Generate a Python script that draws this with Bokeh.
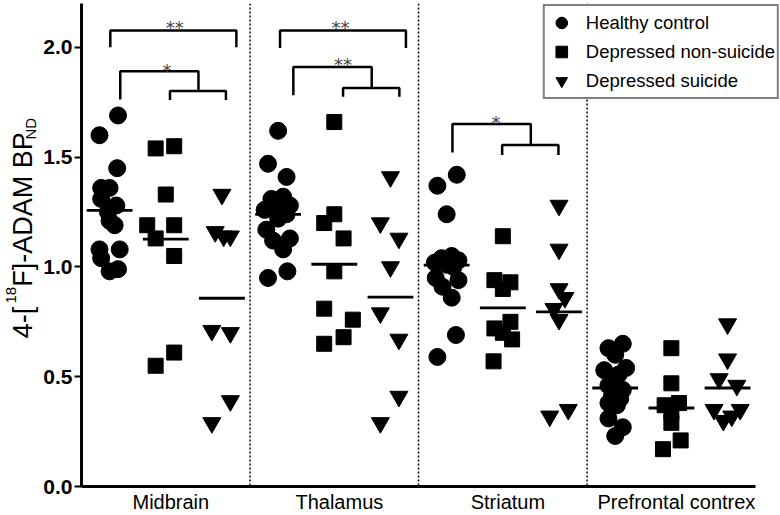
import math
import numpy as np
from bokeh.plotting import figure
from bokeh.layouts import row
from bokeh.models import Span, FixedTicker, NumeralTickFormatter
from bokeh.core.properties import value
from bokeh.embed import file_html
from bokeh.resources import INLINE

categories = ["Midbrain", "Thalamus", "Striatum", "Prefrontal contrex"]
group_names = ["Healthy control", "Depressed non-suicide", "Depressed suicide"]
y_ticks = [0.0, 0.5, 1.0, 1.5, 2.0]

# ---- Healthy control (circles) ----
hc_midbrain = [1.69, 1.60, 1.45, 1.36, 1.36, 1.31, 1.28, 1.25, 1.21, 1.19, 1.08, 1.08, 1.04, 0.98, 0.99]
hc_midbrain_dx = [0.05, -0.06, 0.045, -0.05, 0.0, -0.05, 0.04, -0.01, 0.0, 0.03, -0.06, 0.06, -0.05, 0.0, 0.05]
hc_thalamus = [1.62, 1.47, 1.41, 1.32, 1.31, 1.28, 1.27, 1.26, 1.24, 1.22, 1.17, 1.13, 1.12, 1.08, 0.98, 0.95]
hc_thalamus_dx = [0.0, -0.06, 0.05, 0.03, -0.04, 0.07, 0.0, -0.08, 0.05, 0.0, -0.07, 0.07, -0.03, 0.03, 0.055, -0.06]
hc_striatum = [1.42, 1.37, 1.24, 1.05, 1.04, 1.03, 1.02, 1.01, 1.00, 0.95, 0.94, 0.91, 0.86, 0.69, 0.59]
hc_striatum_dx = [0.06, -0.055, 0.0, 0.03, -0.03, 0.07, -0.07, 0.0, 0.04, -0.065, 0.07, -0.025, 0.03, 0.055, -0.055]
hc_prefrontal = [0.65, 0.63, 0.60, 0.53, 0.54, 0.51, 0.46, 0.44, 0.41, 0.40, 0.37, 0.38, 0.31, 0.27, 0.23]
hc_prefrontal_dx = [0.045, -0.04, 0.0, -0.065, 0.065, 0.02, -0.04, 0.045, -0.02, 0.03, 0.01, -0.04, -0.04, 0.045, 0.0]

# ---- Depressed non-suicide (squares) ----
dn_midbrain = [1.54, 1.55, 1.33, 1.19, 1.19, 1.13, 1.05, 0.61, 0.55]
dn_midbrain_dx = [-0.06, 0.05, 0.0, -0.11, 0.05, -0.06, 0.05, 0.05, -0.06]
dn_thalamus = [1.66, 1.24, 1.20, 1.13, 0.98, 0.81, 0.76, 0.68, 0.65]
dn_thalamus_dx = [0.0, 0.0, -0.06, 0.055, 0.0, -0.06, 0.11, 0.055, -0.06]
dn_striatum = [1.14, 0.94, 0.93, 0.90, 0.75, 0.72, 0.70, 0.67, 0.57]
dn_striatum_dx = [0.0, -0.05, 0.045, 0.0, 0.045, -0.05, 0.0, 0.055, -0.055]
dn_prefrontal = [0.63, 0.47, 0.38, 0.37, 0.34, 0.29, 0.21, 0.17]
dn_prefrontal_dx = [0.0, 0.0, 0.045, -0.04, 0.0, 0.0, 0.055, -0.05]

# ---- Depressed suicide (inverted triangles) ----
ds_midbrain = [1.33, 1.16, 1.14, 1.14, 0.71, 0.70, 0.39, 0.29]
ds_midbrain_dx = [0.0, -0.04, 0.01, 0.05, -0.06, 0.05, 0.05, -0.06]
ds_thalamus = [1.41, 1.20, 1.13, 1.00, 0.79, 0.67, 0.41, 0.29]
ds_thalamus_dx = [0.0, -0.06, 0.05, 0.0, -0.06, 0.05, 0.05, -0.06]
ds_striatum = [1.28, 1.08, 0.90, 0.86, 0.81, 0.76, 0.35, 0.32]
ds_striatum_dx = [0.0, 0.0, 0.0, 0.035, -0.03, 0.0, 0.055, -0.055]
ds_prefrontal = [0.74, 0.58, 0.49, 0.46, 0.35, 0.35, 0.32, 0.30]
ds_prefrontal_dx = [0.0, 0.0, -0.05, 0.055, -0.08, 0.075, 0.025, -0.025]

# significance brackets (x in category units, y in data units)
bracket_xs = [
    [0.171, 0.171, 0.919, 0.919],
    [0.230, 0.230, 0.694, 0.694],
    [0.525, 0.525, 0.857, 0.857],
    [1.178, 1.178, 1.925, 1.925],
    [1.257, 1.257, 1.722, 1.722],
    [1.552, 1.552, 1.886, 1.886],
    [2.201, 2.201, 2.666, 2.666],
    [2.496, 2.496, 2.830, 2.830],
]
bracket_ys = [
    [2.001, 2.077, 2.077, 2.001],
    [1.763, 1.891, 1.891, 1.802],
    [1.760, 1.802, 1.802, 1.760],
    [1.997, 2.077, 2.077, 1.997],
    [1.782, 1.911, 1.911, 1.815],
    [1.775, 1.815, 1.815, 1.775],
    [1.521, 1.651, 1.651, 1.556],
    [1.510, 1.556, 1.556, 1.510],
]
star_text = ["**", "*", "**", "**", "*"]
star_x = [0.553, 0.507, 1.537, 1.552, 2.460]
star_y = [2.092, 1.897, 2.092, 1.920, 1.656]

# y-axis title pieces (rotated), with font size, baseline x and start y in the title strip
title_pieces = ["4-[", "18", "F]-ADAM BP", "ND"]
title_sizes = [27, 15, 27, 15]
title_base_x = [35, 17, 35, 36.5]
title_start_y = [158, 195, 213, 370]

groups = [
    [(hc_midbrain, hc_midbrain_dx), (hc_thalamus, hc_thalamus_dx),
     (hc_striatum, hc_striatum_dx), (hc_prefrontal, hc_prefrontal_dx)],
    [(dn_midbrain, dn_midbrain_dx), (dn_thalamus, dn_thalamus_dx),
     (dn_striatum, dn_striatum_dx), (dn_prefrontal, dn_prefrontal_dx)],
    [(ds_midbrain, ds_midbrain_dx), (ds_thalamus, ds_thalamus_dx),
     (ds_striatum, ds_striatum_dx), (ds_prefrontal, ds_prefrontal_dx)],
]
group_offset = [-1.0 / 3.0, 0.0, 1.0 / 3.0]
markers = ["circle", "square", "inverted_triangle"]
sizes = [17, 15, 18]

FONT = "Liberation Sans"
W, H = 780, 515
LEFT_W = 40
FRAME_LEFT = 77
CAT_PX = 169.5

# ---------------- main plot ----------------
p = figure(width=W - LEFT_W, height=H,
           x_range=(0, (W - FRAME_LEFT) / CAT_PX), y_range=(0, 2.2),
           output_backend="svg", toolbar_location=None,
           min_border_left=FRAME_LEFT - LEFT_W, min_border_right=0,
           min_border_top=3, min_border_bottom=27)
p.outline_line_color = None
p.grid.visible = False
p.background_fill_color = "white"
p.border_fill_color = "white"

# y axis
p.yaxis.ticker = FixedTicker(ticks=y_ticks)
p.yaxis.formatter = NumeralTickFormatter(format="0.0")
p.yaxis.axis_line_width = 3
p.yaxis.major_tick_line_width = 2
p.yaxis.major_tick_out = 7
p.yaxis.major_tick_in = 0
p.yaxis.minor_tick_out = 0
p.yaxis.minor_tick_in = 0
p.yaxis.major_label_standoff = 2
p.yaxis.major_label_text_font = FONT
p.yaxis.major_label_text_font_size = "21px"
p.yaxis.major_label_text_font_style = "bold"
p.yaxis.major_label_text_color = "black"

# x axis with category names as tick labels
cat_ticks = [i + 0.53 for i in range(len(categories))]
p.xaxis.ticker = FixedTicker(ticks=cat_ticks)
p.xaxis.major_label_overrides = {t: c for t, c in zip(cat_ticks, categories)}
p.xaxis.axis_line_width = 3
p.xaxis.bounds = (0, 4)
p.xaxis.major_tick_out = 0
p.xaxis.major_tick_in = 0
p.xaxis.minor_tick_out = 0
p.xaxis.minor_tick_in = 0
p.xaxis.major_label_standoff = 4
p.xaxis.major_label_text_font = FONT
p.xaxis.major_label_text_font_size = "20px"
p.xaxis.major_label_text_color = "black"

# dotted separators
for i in range(1, len(categories)):
    p.add_layout(Span(location=i, dimension="height", line_color="black",
                      line_dash="2 2", line_width=1.5))

# points and mean lines
mx0, mx1, my = [], [], []
for g, cat_data in enumerate(groups):
    xs, ys = [], []
    for i, (vals, dx) in enumerate(cat_data):
        center = i + 0.5 + group_offset[g]
        xs += [center + d for d in dx]
        ys += list(vals)
        m = float(np.mean(vals))
        mx0.append(center - 0.136)
        mx1.append(center + 0.136)
        my.append(m)
    p.scatter(xs, ys, marker=markers[g], size=sizes[g], fill_color="black",
              line_color="black", legend_label=group_names[g])

p.segment(x0=mx0, y0=my, x1=mx1, y1=my, line_color="black", line_width=2.8)

# brackets and stars
p.multi_line(xs=bracket_xs, ys=bracket_ys, line_color="black", line_width=2.5)
p.text(x=star_x, y=star_y, text=star_text, text_align="center",
       text_baseline="middle", text_font=value("DejaVu Sans"),
       text_font_size=value("18px"), text_color="#444444")

# legend
lg = p.legend[0]
lg.location = "top_right"
lg.margin = 1
lg.padding = 2
lg.spacing = -1
lg.glyph_width = 29
lg.glyph_height = 29
lg.label_standoff = 10
lg.label_text_font = FONT
lg.label_text_font_size = "18.5px"
lg.label_text_color = "black"
lg.border_line_color = "black"
lg.border_line_width = 2
lg.background_fill_color = "white"
lg.background_fill_alpha = 1.0

# ---------------- y-axis title strip ----------------
t = figure(width=LEFT_W, height=H, x_range=(0, LEFT_W), y_range=(0, H),
           output_backend="svg", toolbar_location=None, min_border=0,
           x_axis_location=None, y_axis_location=None)
t.outline_line_color = None
t.grid.visible = False
t.background_fill_color = "white"
t.border_fill_color = "white"

for txt, fs, bx, sy in zip(title_pieces, title_sizes, title_base_x, title_start_y):
    t.text(x=[bx - 0.45 * fs], y=[sy], text=[txt], angle=math.pi / 2,
           text_align="left", text_baseline="alphabetic",
           text_font=value(FONT), text_font_size=value(f"{fs}px"),
           text_color="black")

layout = row(t, p)
open("out.html", "w").write(file_html(layout, INLINE))
